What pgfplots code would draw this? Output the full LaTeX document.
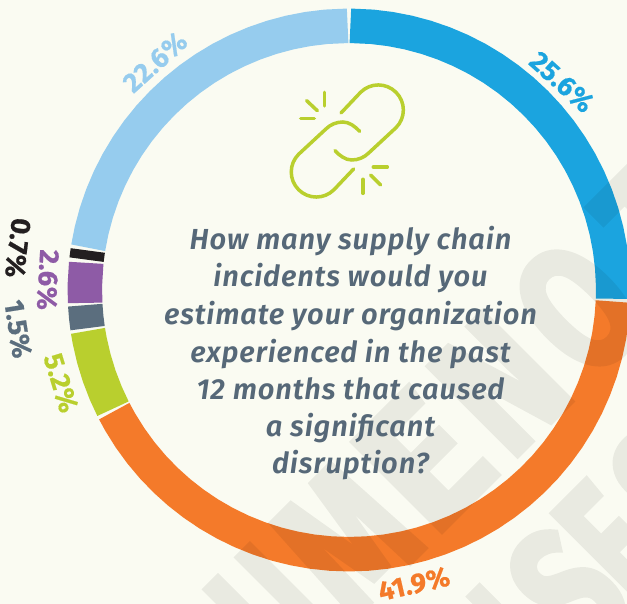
\documentclass[border=0pt]{standalone}
\usepackage{graphicx}
\usepackage{fontspec}
\usepackage{pgfplots}
\pgfplotsset{compat=1.18}
\usepgfplotslibrary{polar}
\setmainfont{Fira Sans}
\newfontfamily\qf{Fira Sans SemiBold Italic}[LetterSpace=3]
\newfontfamily\lf{Fira Sans Bold}[LetterSpace=1,FakeBold=0.6]
\newfontfamily\wf{Fira Sans Bold}[FakeBold=3]
\definecolor{bg}{HTML}{FAFBF2}
\definecolor{cblue}{HTML}{1BA4DF}
\definecolor{corange}{HTML}{F47A2A}
\definecolor{cgreen}{HTML}{B9CF2E}
\definecolor{cslate}{HTML}{5B6E7E}
\definecolor{cpurple}{HTML}{8E5BA6}
\definecolor{cblack}{HTML}{231F20}
\definecolor{clight}{HTML}{96CCEE}
\definecolor{ctext}{HTML}{566878}
\newcommand\lab[5]{\node[rotate=#3,text=#4,font=\lf\fontsize{27.5}{27.5}\selectfont,inner sep=0pt] at (#1,#2) {#5};}
\newcommand\qline[2]{\node[text=ctext,font=\qf\fontsize{29}{29}\selectfont,inner sep=0pt,anchor=base] at (#1) {#2};}
\newcommand\wl[4]{\node[rotate=45,anchor=base,inner sep=0pt,text=black,font=\wf\fontsize{172}{172}\selectfont] at (#1,#2) {\resizebox{#3pt}{126pt}{#4}};}
\newcommand\linkpath{(341,113) -- (360.6,92.3) .. controls (370.4,82.5) and (386.2,82.5) .. (396,92.3) .. controls (405.8,102.1) and (405.8,117.9) .. (396,127.7) -- (368.7,153) .. controls (364.2,157.5) and (358.1,160) .. (351.7,160) .. controls (345.3,160) and (339.5,155.5) .. (335,150.7)}
\begin{document}
\begin{tikzpicture}
\clip (0,0) rectangle (627pt,604pt);
\fill[bg] (0,0) rectangle (627pt,604pt);
\begin{axis}[at={(0pt,0pt)},anchor=south west,scale only axis,width=627pt,height=604pt,
  xmin=-349,xmax=278,ymin=-314,ymax=290,hide axis,clip=true,
  every axis plot/.append style={data cs=polar,line width=34.5pt,line cap=butt,no markers,mark=none}]
\addplot[cblue] coordinates {(89.7,264.2)(85,264.2)(81,264.2)(77,264.2)(73,264.2)(69,264.2)(65,264.2)(61,264.2)(57,264.2)(53,264.2)(49,264.2)(45,264.2)(41,264.2)(37,264.2)(33,264.2)(29,264.2)(25,264.2)(21,264.2)(17,264.2)(13,264.2)(9,264.2)(5,264.2)(1,264.2)(-1.9,264.2)};
\addplot[corange] coordinates {(-2.5,264.2)(-6,264.2)(-10,264.2)(-14,264.2)(-18,264.2)(-22,264.2)(-26,264.2)(-30,264.2)(-34,264.2)(-38,264.2)(-42,264.2)(-46,264.2)(-50,264.2)(-54,264.2)(-58,264.2)(-62,264.2)(-66,264.2)(-70,264.2)(-74,264.2)(-78,264.2)(-82,264.2)(-86,264.2)(-90,264.2)(-94,264.2)(-98,264.2)(-102,264.2)(-106,264.2)(-110,264.2)(-114,264.2)(-118,264.2)(-122,264.2)(-126,264.2)(-130,264.2)(-134,264.2)(-138,264.2)(-142,264.2)(-146,264.2)(-150,264.2)(-152.7,264.2)};
\addplot[cgreen] coordinates {(-153.3,264.2)(-157,264.2)(-161,264.2)(-165,264.2)(-169,264.2)(-171.1,264.2)};
\addplot[cslate] coordinates {(-171.7,264.2)(-174,264.2)(-176.7,264.2)};
\addplot[cpurple] coordinates {(-177.2,264.2)(-181,264.2)(-185.9,264.2)};
\addplot[cblack] coordinates {(-186.6,264.2)(-188.6,264.2)};
\addplot[clight] coordinates {(-189.2,264.2)(-193,264.2)(-197,264.2)(-201,264.2)(-205,264.2)(-209,264.2)(-213,264.2)(-217,264.2)(-221,264.2)(-225,264.2)(-229,264.2)(-233,264.2)(-237,264.2)(-241,264.2)(-245,264.2)(-249,264.2)(-253,264.2)(-257,264.2)(-261,264.2)(-265,264.2)(-269.7,264.2)};
\end{axis}
\begin{scope}[x=1pt,y=-1pt,yshift=604pt]
% watermark
\begin{scope}[transparency group,opacity=.068]
\wl{316.8}{656.2}{78}{U}
\wl{390.3}{582.7}{108}{M}
\wl{468.1}{504.9}{98}{E}
\wl{544.5}{428.5}{96}{N}
\wl{621.5}{351.5}{92}{O}
\wl{707}{266}{90}{T}
\wl{547.8}{696.2}{76}{N}
\wl{611.4}{632.6}{76}{S}
\wl{657.4}{586.6}{62}{E}
\wl{713.9}{530.1}{76}{S}
\end{scope}
% icon
\begin{scope}[draw=cgreen,line width=3.5pt,line cap=round]
\draw \linkpath;
\begin{scope}[rotate around={180:(347.3,141)}]
\draw \linkpath;
\end{scope}
\draw (324.3,92.3)--(324.3,106);
\draw (306.7,100.7)--(317.3,110.7);
\draw (300.7,118.3)--(314.3,118.3);
\draw (363,179.3)--(363,193.3);
\draw (370.7,175)--(380.7,185);
\draw (373.3,167)--(387.3,167);
\end{scope}
% question
\qline{350.5,250}{How many supply chain}
\qline{350.5,287}{incidents would you}
\qline{350.5,325}{estimate your organization}
\qline{350.5,363}{experienced in the past}
\qline{350.5,400}{12 months that caused}
\qline{350.5,437}{a significant}
\qline{350.5,474}{disruption?}
% labels
\lab{562}{82}{-42}{cblue}{25.6\%}
\lab{155}{62}{42}{clight}{22.6\%}
\lab{414}{584}{13}{corange}{41.9\%}
\lab{18}{248}{-97}{cblack}{0.7\%}
\lab{48}{280}{-93}{cpurple}{2.6\%}
\lab{18}{329}{-81}{cslate}{1.5\%}
\lab{61}{383}{-73}{cgreen}{5.2\%}
\end{scope}
\end{tikzpicture}
\end{document}
